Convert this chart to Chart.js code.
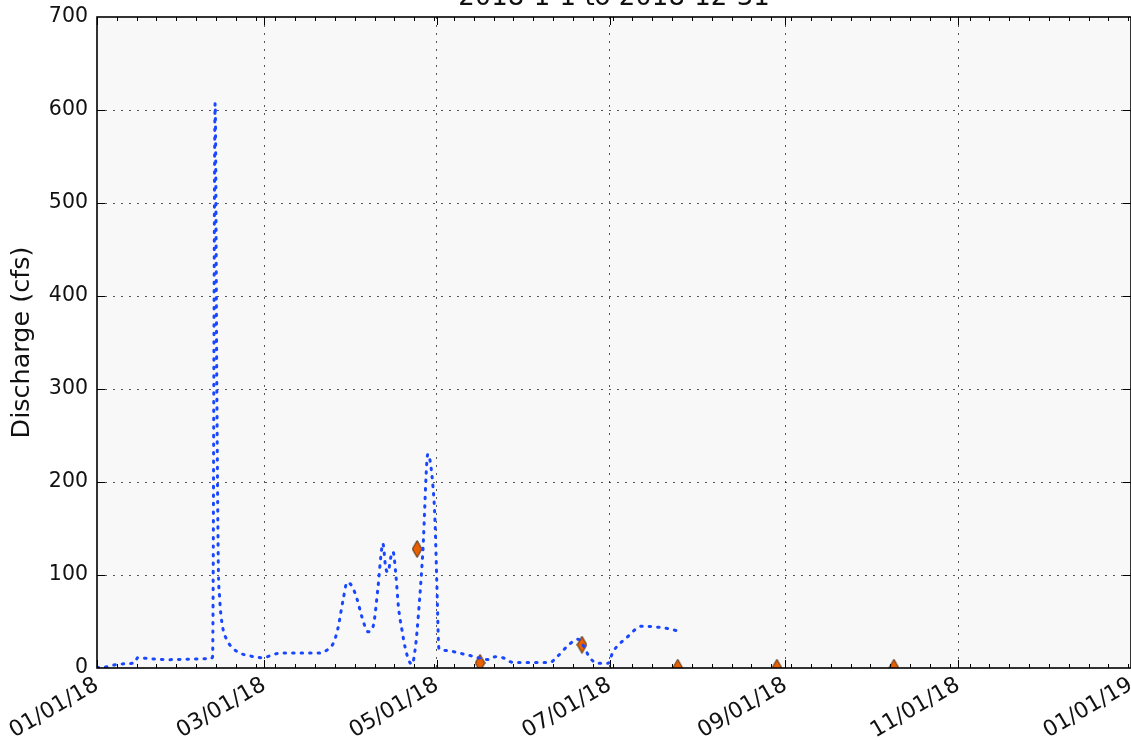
<!DOCTYPE html>
<html>
<head>
<meta charset="utf-8">
<script src="https://cdn.jsdelivr.net/npm/chart.js@4"></script>
<style>
  html, body { margin: 0; background: #fff; overflow: hidden; }
  canvas { display: block; }
</style>
</head>
<body>
<canvas id="myChart" width="1140" height="740"></canvas>
<script>
// days since 2018-01-01 and daily discharge (cfs)
const flowDay = [0, 2.8, 7.4, 12.4, 13.5, 14.3, 18.7, 25.8, 32.8, 39.9, 40.8, 41.7, 42.3, 42.8, 43.3, 44.3, 45.9, 47.7, 50.5, 54,
  58.6, 61, 64.6, 71.7, 78.7, 81.5, 83.3, 85, 86.8, 88.3, 90, 91.8, 93.5, 95.7, 97.4, 99.2, 100.2, 100.9, 101.9, 102.7,
  103.8, 104.5, 105.5, 106.4, 107.7, 108.7, 110.1, 111.2, 112.5, 113.5, 115, 116.8, 118.6, 119.3, 120, 120.7, 122.3, 130.8, 138.7, 140.5,
  143.3, 146.8, 152.8, 159.9, 162.4, 165.9, 169.8, 171.5, 174, 176.8, 180.4, 182.1, 187.1, 192.4, 197.7, 202.3, 204.7];
const flowCfs = [0.5, 1, 4, 5, 6, 11, 10, 9, 9.5, 10, 12, 607, 300, 116, 75, 45, 30, 22, 16, 13,
  11, 13, 16, 16, 16, 20, 26, 42, 72, 92, 88, 74, 55, 39, 44, 87, 120, 134, 108, 103,
  120, 125, 100, 66, 40, 23, 8, 4, 25, 59, 124, 230, 195, 159, 87, 21, 19, 14, 9, 12,
  11, 6, 6, 6, 12, 23, 31, 25, 11, 5, 5, 17, 33, 45, 44, 42, 40];

// field measurements
const measDay = [113, 135.2, 171.2, 205, 240, 281.3];
const measCfs = [128, 5.5, 25, 0.3, 0.3, 0.3];

const tickDays = [0, 59, 120, 181, 243, 304, 365];
const tickLabels = ['01/01/18', '03/01/18', '05/01/18', '07/01/18', '09/01/18', '11/01/18', '01/01/19'];
const titleText = '2018-1-1 to 2018-12-31';

const font = 'DejaVu Sans';

// thin diamond marker
const diamond = document.createElement('canvas');
diamond.width = 11;
diamond.height = 18;
const dctx = diamond.getContext('2d');
dctx.beginPath();
dctx.moveTo(5.5, 0.5);
dctx.lineTo(10.3, 9);
dctx.lineTo(5.5, 17.5);
dctx.lineTo(0.7, 9);
dctx.closePath();
dctx.fillStyle = 'rgb(232,96,0)';
dctx.fill();
dctx.lineWidth = 1;
dctx.strokeStyle = 'rgb(60,40,20)';
dctx.stroke();

const frame = {
  id: 'frame',
  beforeDraw(chart) {
    const {ctx, chartArea: a} = chart;
    ctx.save();
    ctx.fillStyle = '#f8f8f8';
    ctx.fillRect(a.left, a.top, a.width, a.height);
    ctx.restore();
  },
  afterDraw(chart) {
    const {ctx, chartArea: a, scales: {x, y}} = chart;
    ctx.save();
    ctx.strokeStyle = '#000';
    ctx.lineWidth = 1;
    ctx.beginPath();
    for (let d = 7; d < 365; d += 7) {
      const px = Math.round(x.getPixelForValue(d)) + 0.5;
      ctx.moveTo(px, a.bottom); ctx.lineTo(px, a.bottom - 4);
      ctx.moveTo(px, a.top); ctx.lineTo(px, a.top + 4);
    }
    tickDays.forEach(d => {
      const px = Math.round(x.getPixelForValue(d)) + 0.5;
      ctx.moveTo(px, a.bottom); ctx.lineTo(px, a.bottom - 8);
      ctx.moveTo(px, a.top); ctx.lineTo(px, a.top + 8);
    });
    for (let v = 100; v < 700; v += 100) {
      const py = Math.round(y.getPixelForValue(v)) + 0.5;
      ctx.moveTo(a.left, py); ctx.lineTo(a.left + 8, py);
      ctx.moveTo(a.right, py); ctx.lineTo(a.right - 8, py);
    }
    ctx.stroke();
    ctx.lineWidth = 1.6;
    ctx.strokeRect(a.left, a.top, a.width, a.height);

    ctx.fillStyle = '#111';
    ctx.font = '26px "' + font + '"';
    ctx.textAlign = 'center';
    ctx.textBaseline = 'alphabetic';
    ctx.fillText(titleText, (a.left + a.right) / 2, 5);
    ctx.restore();
  }
};

const gridDots = {
  color: 'rgba(0,0,0,0.65)',
  lineWidth: 1,
  drawTicks: false
};

const ctx = document.getElementById('myChart').getContext('2d');
const myChart = new Chart(ctx, {
  data: {
    datasets: [{
      type: 'line',
      label: 'Discharge',
      data: flowDay.map((d, i) => ({x: d, y: flowCfs[i]})),
      borderColor: 'rgb(25,70,255)',
      borderWidth: 3,
      borderDash: [1.5, 7],
      borderCapStyle: 'round',
      pointRadius: 0,
      cubicInterpolationMode: 'monotone',
      fill: false,
      clip: 0
    }, {
      type: 'scatter',
      label: 'Measurements',
      data: measDay.map((d, i) => ({x: d, y: measCfs[i]})),
      pointStyle: diamond,
      pointRadius: 8,
      clip: 0
    }]
  },
  options: {
    responsive: false,
    devicePixelRatio: 1,
    animation: false,
    layout: { padding: { top: 17, left: 0, right: 0, bottom: 0 } },
    plugins: {
      legend: { display: false },
      tooltip: { enabled: false }
    },
    scales: {
      x: {
        type: 'linear',
        min: 0,
        max: 365,
        afterBuildTicks: scale => { scale.ticks = tickDays.map(v => ({value: v})); },
        afterFit: scale => { scale.height = 72; scale.paddingLeft = 0; scale.paddingRight = 0; },
        ticks: {
          autoSkip: false,
          maxRotation: 30,
          minRotation: 30,
          padding: 4,
          color: '#111',
          font: { family: font, size: 22 },
          callback: (v, i) => tickLabels[i]
        },
        grid: Object.assign({}, gridDots, {
          color: c => (c.index === 0 || c.index === tickDays.length - 1) ? 'rgba(0,0,0,0)' : 'rgba(0,0,0,0.65)'
        }),
        border: { display: false, dash: [2, 6] }
      },
      y: {
        min: 0,
        max: 700,
        afterFit: scale => { scale.width = 97; scale.paddingTop = 0; scale.paddingBottom = 0; },
        ticks: {
          stepSize: 100,
          padding: 9,
          color: '#111',
          font: { family: font, size: 20.5 }
        },
        grid: Object.assign({}, gridDots, {
          color: c => (c.tick.value === 0 || c.tick.value === 700) ? 'rgba(0,0,0,0)' : 'rgba(0,0,0,0.65)'
        }),
        border: { display: false, dash: [2, 6] },
        title: {
          display: true,
          text: 'Discharge (cfs)',
          color: '#111',
          font: { family: font, size: 25.5 },
          padding: { top: 7, bottom: 0 }
        }
      }
    }
  },
  plugins: [frame]
});
</script>
</body>
</html>
